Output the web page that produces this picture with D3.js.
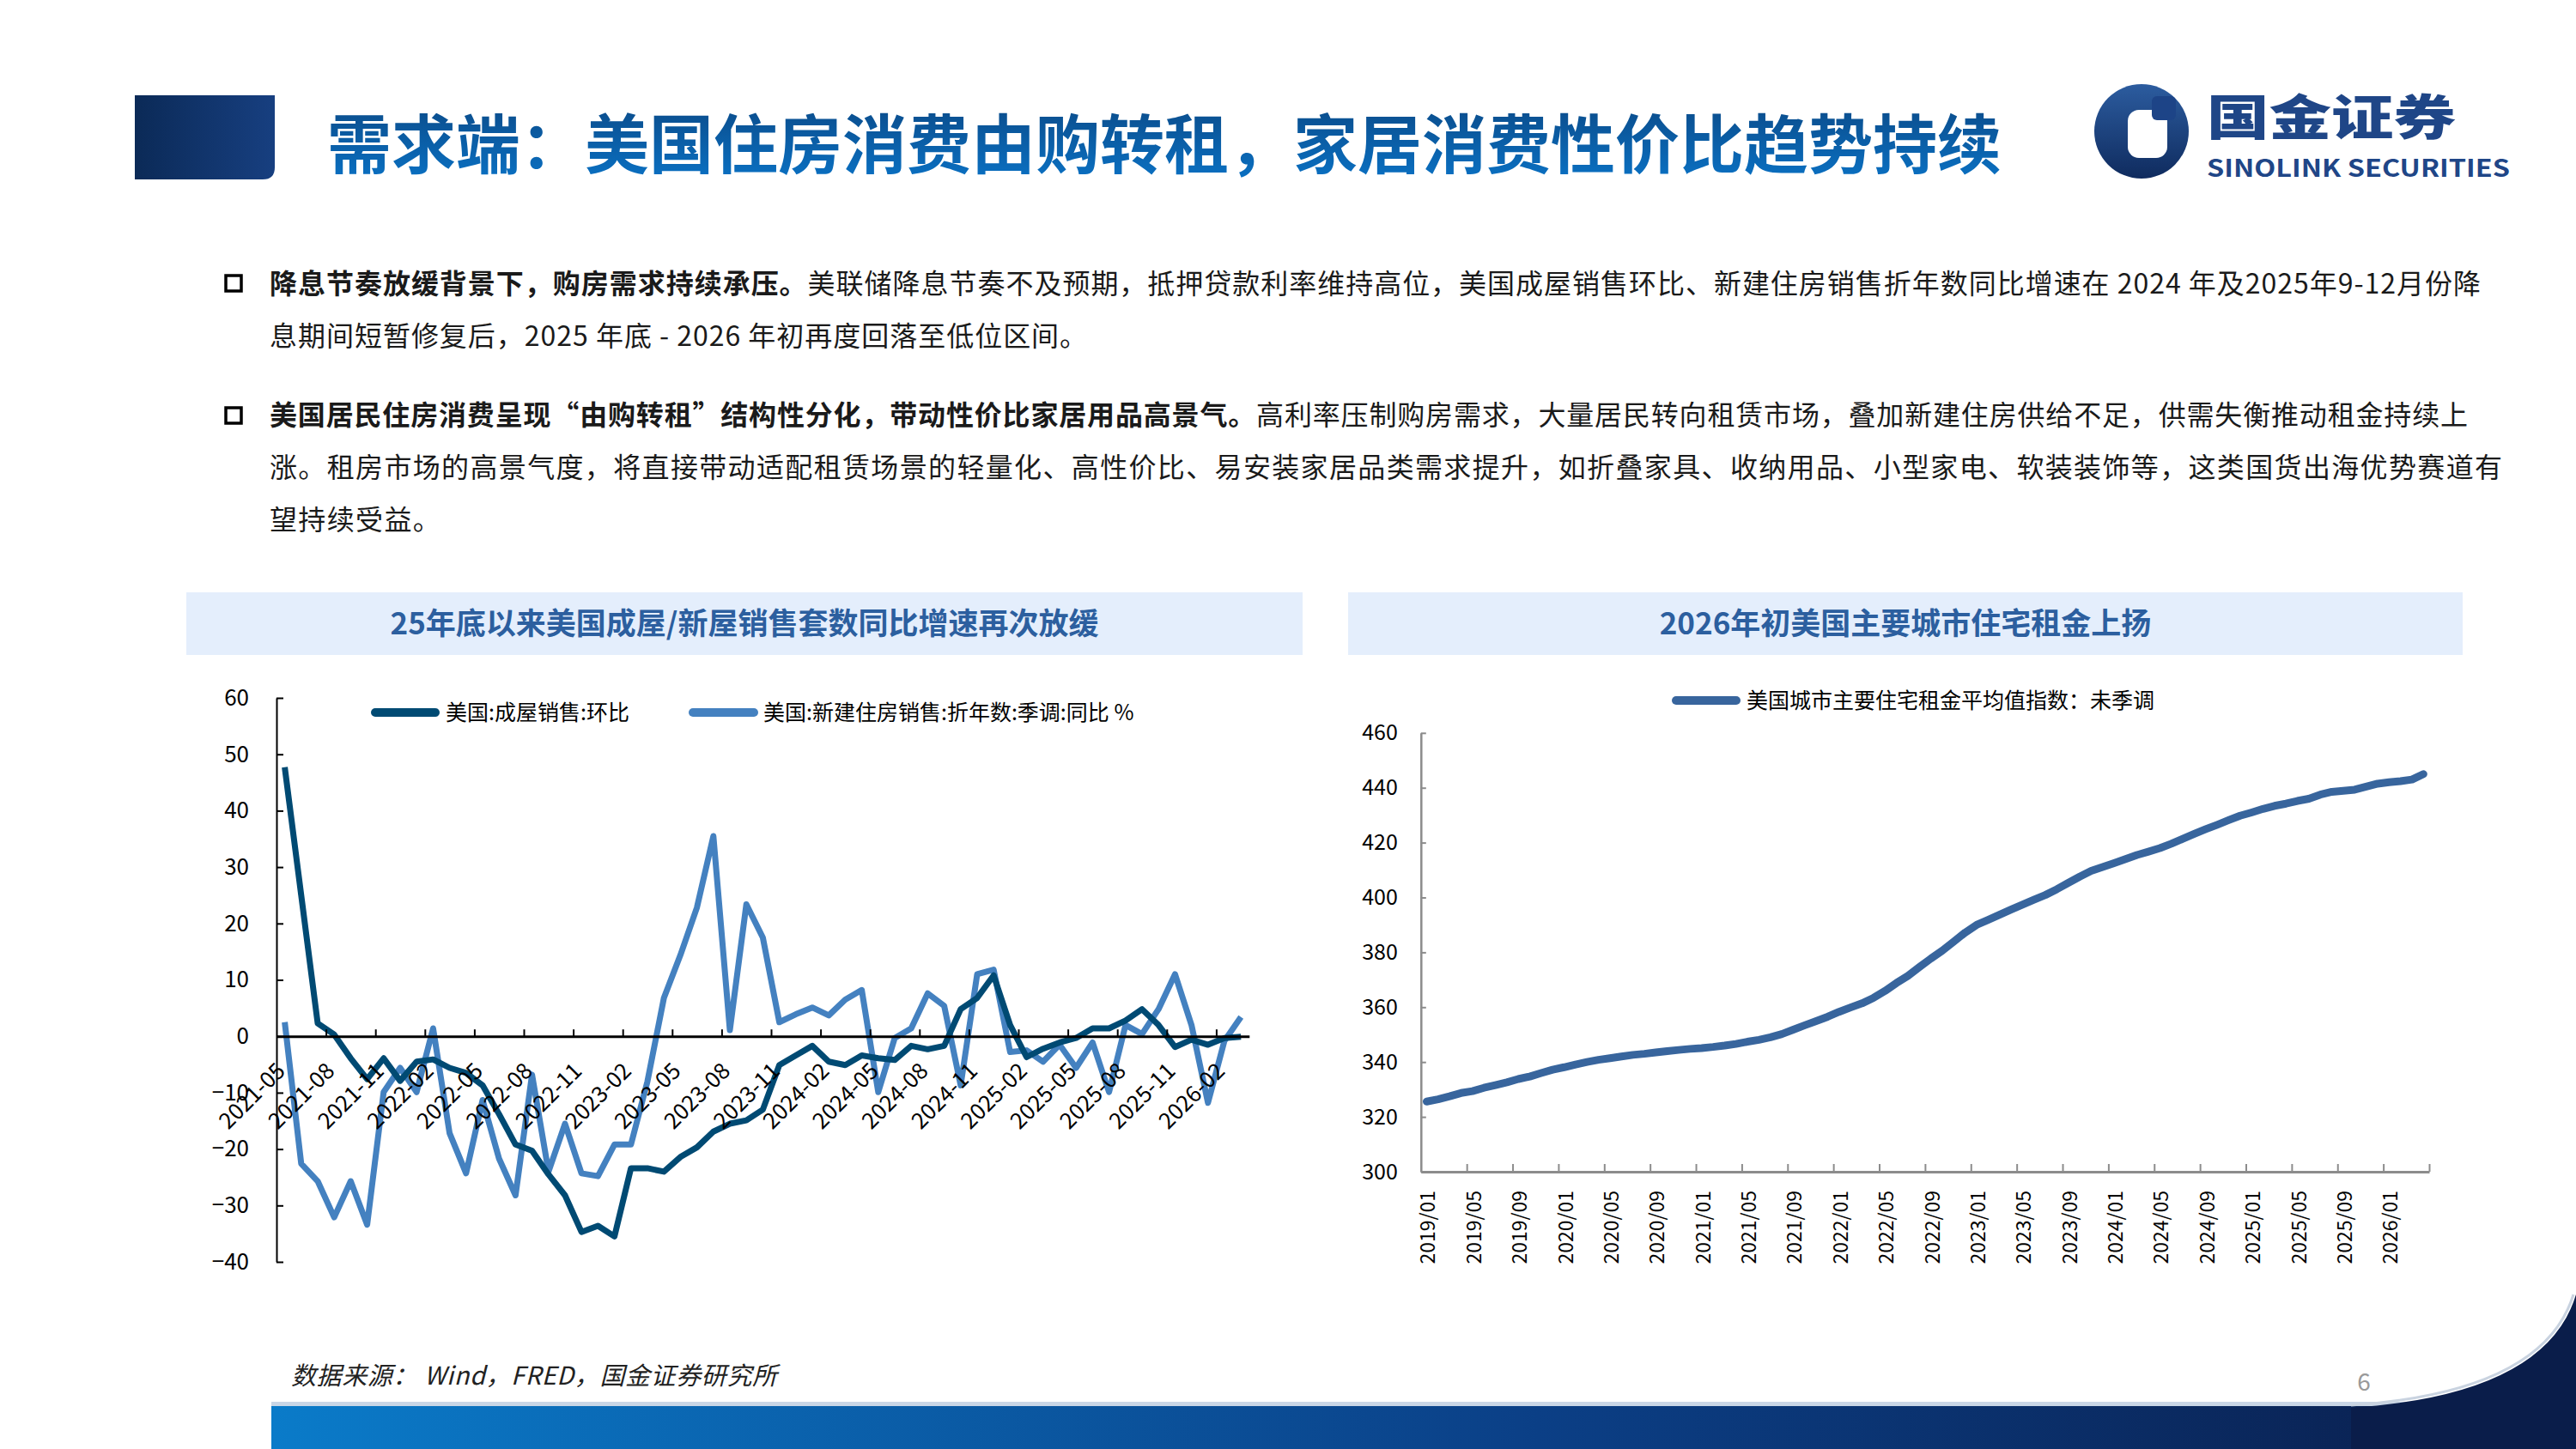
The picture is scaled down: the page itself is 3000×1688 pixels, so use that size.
<!DOCTYPE html>
<html>
<head>
<meta charset="utf-8">
<script src="https://cdn.jsdelivr.net/npm/d3@7"></script>
<style>
  body { margin: 0; background: #fff; }
  svg { display: block; }
  text { font-family: "Noto Sans CJK SC", "Noto Sans", sans-serif; }
</style>
</head>
<body>
<svg width="3000" height="1688"></svg>
<script>
// ---------- data ----------
// left chart: monthly, 2021-05 .. 2026-03
let salesMonths = d3.timeMonth.range(new Date(2021, 4, 1), new Date(2026, 3, 1)).map(d3.timeFormat('%Y-%m'));
let existingHomeMoM = [47.7, 25, 2.3, 0.3, -3.9, -7.6, -3.9, -7.9, -4.5, -4.1,
  -5.6, -6.5, -8.7, -13.8, -19.2, -20.3, -24.5, -28.2, -34.7, -33.6,
  -35.5, -23.4, -23.4, -24.0, -21.4, -19.7, -16.9, -15.5, -14.9, -13.0,
  -5.1, -3.4, -1.7, -4.5, -5.1, -3.4, -3.9, -4.2, -1.7, -2.3,
  -1.7, 4.8, 6.8, 10.8, 2.0, -3.7, -2.2, -1.1, -0.3, 1.4,
  1.4, 2.8, 4.8, 2.0, -1.9, -0.6, -1.5, -0.3, -0.1];
let newHomeYoY = [2.5, -22.6, -25.7, -32.1, -25.7, -33.4, -9.9, -5.6, -9.9, 1.4,
  -17.2, -24.3, -11.3, -21.7, -28.2, -6.8, -24.0, -15.5, -24.3, -24.8,
  -19.2, -19.2, -8.0, 6.8, 14.4, 22.8, 35.5, 1.1, 23.4, 17.5,
  2.5, 3.9, 5.1, 3.7, 6.5, 8.2, -9.9, -0.3, 1.4, 7.6,
  5.4, -8.7, 11.0, 11.8, -2.8, -2.5, -4.5, -1.5, -5.6, -1.1,
  -9.9, 2.0, 0.4, 4.8, 11.0, 2.0, -11.8, -0.8, 3.4];
let salesTicks = [-40, -30, -20, -10, 0, 10, 20, 30, 40, 50, 60];

// right chart: monthly, 2019/01 .. 2026/04
let rentMonths = d3.timeMonth.range(new Date(2019, 0, 1), new Date(2026, 4, 1)).map(d3.timeFormat('%Y/%m'));
let rentIndex = [325.6, 326.4, 327.5, 328.7, 329.4, 330.6, 331.6, 332.6, 333.8, 334.7,
  336.0, 337.2, 338.1, 339.1, 340.0, 340.8, 341.4, 342.0, 342.6, 343.0,
  343.5, 344.0, 344.4, 344.8, 345.1, 345.5, 346.0, 346.6, 347.4, 348.1,
  349.0, 350.2, 351.8, 353.4, 354.9, 356.5, 358.3, 359.9, 361.4, 363.4,
  365.9, 368.8, 371.4, 374.6, 377.7, 380.6, 383.9, 387.2, 390.0, 391.8,
  393.7, 395.6, 397.4, 399.2, 400.9, 403.0, 405.3, 407.6, 409.7, 411.1,
  412.5, 414.0, 415.5, 416.7, 418.0, 419.6, 421.4, 423.2, 424.9, 426.5,
  428.2, 429.8, 431.0, 432.3, 433.4, 434.2, 435.2, 436.0, 437.5, 438.5,
  438.9, 439.3, 440.4, 441.5, 442.0, 442.4, 443.0, 445.0];
let rentTicks = [300, 320, 340, 360, 380, 400, 420, 440, 460];

let svg = d3.select('svg');
let defs = svg.append('defs');

// ---------- page furniture ----------
let g1 = defs.append('linearGradient').attr('id', 'blockGrad').attr('x1', 0).attr('x2', 1).attr('y1', 0).attr('y2', 0);
g1.append('stop').attr('offset', 0).attr('stop-color', '#0b2a57');
g1.append('stop').attr('offset', 1).attr('stop-color', '#173f80');

let g2 = defs.append('linearGradient').attr('id', 'titleGrad').attr('x1', 0).attr('x2', 0).attr('y1', 0).attr('y2', 1);
g2.append('stop').attr('offset', 0).attr('stop-color', '#0b4783');
g2.append('stop').attr('offset', 1).attr('stop-color', '#0a74c8');

let g3 = defs.append('linearGradient').attr('id', 'bandGrad').attr('x1', 0).attr('x2', 1).attr('y1', 0).attr('y2', 0);
g3.append('stop').attr('offset', 0).attr('stop-color', '#0a7bc9');
g3.append('stop').attr('offset', 0.55).attr('stop-color', '#0b3f86');
g3.append('stop').attr('offset', 1).attr('stop-color', '#0a1d4a');

let g4 = defs.append('linearGradient').attr('id', 'logoGrad').attr('x1', 0).attr('x2', 0).attr('y1', 0).attr('y2', 1);
g4.append('stop').attr('offset', 0).attr('stop-color', '#2c5c9f');
g4.append('stop').attr('offset', 1).attr('stop-color', '#0f2b5e');

// left dark block
svg.append('path')
  .attr('d', 'M157,111 H320 V195 Q320,209 306,209 H157 Z')
  .attr('fill', 'url(#blockGrad)');

svg.append('text')
  .attr('x', 381).attr('y', 196)
  .attr('font-size', 75).attr('font-weight', 700)
  .attr('fill', 'url(#titleGrad)')
  .text('需求端：美国住房消费由购转租，家居消费性价比趋势持续');

// logo
let logo = svg.append('g');
logo.append('circle').attr('cx', 2494).attr('cy', 153).attr('r', 55).attr('fill', 'url(#logoGrad)');
logo.append('rect').attr('x', 2478).attr('y', 128).attr('width', 46).attr('height', 56).attr('rx', 13).attr('fill', '#fff');
logo.append('rect').attr('x', 2506).attr('y', 112).attr('width', 28).attr('height', 28).attr('rx', 6).attr('fill', '#1d4487');
logo.append('text').attr('x', 2570).attr('y', 157)
  .attr('font-size', 56).attr('font-weight', 900).attr('fill', '#1f4687')
  .attr('textLength', 290).attr('lengthAdjust', 'spacingAndGlyphs')
  .text('国金证券');
logo.append('text').attr('x', 2570).attr('y', 206)
  .attr('font-family', '"Liberation Sans", Arial, sans-serif')
  .attr('font-size', 28).attr('font-weight', 700).attr('fill', '#1f4687')
  .attr('textLength', 353).attr('lengthAdjust', 'spacingAndGlyphs')
  .text('SINOLINK SECURITIES');

// ---------- bullet text ----------
let bulletLines = [
  { y: 342, parts: [['降息节奏放缓背景下，购房需求持续承压。', 700], ['美联储降息节奏不及预期，抵押贷款利率维持高位，美国成屋销售环比、新建住房销售折年数同比增速在 2024 年及2025年9-12月份降', 400]], end: 2889 },
  { y: 403, parts: [['息期间短暂修复后，2025 年底 - 2026 年初再度回落至低位区间。', 400]], end: null },
  { y: 495, parts: [['美国居民住房消费呈现“由购转租”结构性分化，带动性价比家居用品高景气。', 700], ['高利率压制购房需求，大量居民转向租赁市场，叠加新建住房供给不足，供需失衡推动租金持续上', 400]], end: 2874 },
  { y: 556, parts: [['涨。租房市场的高景气度，将直接带动适配租赁场景的轻量化、高性价比、易安装家居品类需求提升，如折叠家具、收纳用品、小型家电、软装装饰等，这类国货出海优势赛道有', 400]], end: 2914 },
  { y: 617, parts: [['望持续受益。', 400]], end: null }
];
[330, 484].forEach(cy => {
  svg.append('rect').attr('x', 263).attr('y', cy - 9).attr('width', 18).attr('height', 18)
    .attr('fill', '#fff').attr('stroke', '#000').attr('stroke-width', 3.5);
});
let lastSpacing = 0;
bulletLines.forEach(line => {
  let t = svg.append('text').attr('x', 314).attr('y', line.y)
    .attr('font-size', 32).attr('fill', '#1a1a1a');
  line.parts.forEach(p => t.append('tspan').attr('font-weight', p[1]).text(p[0]));
  let n = line.parts.map(p => p[0]).join('').length;
  if (line.end) {
    let natural = t.node().getComputedTextLength();
    lastSpacing = (line.end - 314 - natural) / (n - 1);
  }
  t.attr('letter-spacing', lastSpacing);
});

// ---------- chart title boxes ----------
[[217, 1517, '25年底以来美国成屋/新屋销售套数同比增速再次放缓'], [1570, 2868, '2026年初美国主要城市住宅租金上扬']].forEach(b => {
  svg.append('rect').attr('x', b[0]).attr('y', 690).attr('width', b[1] - b[0]).attr('height', 73).attr('fill', '#e4eefc');
  svg.append('text').attr('x', (b[0] + b[1]) / 2).attr('y', 739)
    .attr('text-anchor', 'middle').attr('font-size', 35).attr('font-weight', 700)
    .attr('fill', '#2c5f9f').text(b[2]);
});

// ---------- left chart ----------
let darkColor = '#004a73';
let blueColor = '#4481c0';

let xL = d3.scaleBand().domain(salesMonths).range([322, 1454.8]);
let bwL = xL.bandwidth();
let xLBound = d3.scaleLinear().domain([0, salesMonths.length]).range([322, 1454.8]);
let yL = d3.scaleLinear().domain([-40, 60]).range([1470, 813]);

let left = svg.append('g');

left.append('g')
  .attr('transform', 'translate(322,0)')
  .call(d3.axisLeft(yL).tickValues(salesTicks).tickSize(-8).tickSizeOuter(0).tickPadding(32))
  .call(g => g.select('.domain').attr('stroke', '#000').attr('stroke-width', 2))
  .call(g => g.selectAll('.tick line').attr('stroke', '#000').attr('stroke-width', 2))
  .call(g => g.selectAll('text').attr('font-family', '"Liberation Sans", Arial, sans-serif').attr('font-size', 26).attr('fill', '#000'));

let salesLine = d3.line().x((d, i) => xL(salesMonths[i]) + bwL / 2).y(d => yL(d));

left.append('path').datum(newHomeYoY)
  .attr('d', salesLine).attr('fill', 'none')
  .attr('stroke', blueColor).attr('stroke-width', 7).attr('stroke-linejoin', 'round');
left.append('path').datum(existingHomeMoM)
  .attr('d', salesLine).attr('fill', 'none')
  .attr('stroke', darkColor).attr('stroke-width', 7).attr('stroke-linejoin', 'round');

// zero axis with boundary ticks
left.append('g')
  .attr('transform', `translate(0,${yL(0)})`)
  .call(d3.axisTop(xLBound).tickValues(d3.range(3, salesMonths.length, 3)).tickSize(8).tickSizeOuter(0).tickFormat(''))
  .call(g => g.select('.domain').attr('stroke', '#000').attr('stroke-width', 3))
  .call(g => g.selectAll('.tick line').attr('stroke', '#000').attr('stroke-width', 2));

left.append('g')
  .attr('transform', `translate(0,${yL(0)})`)
  .call(d3.axisBottom(xL).tickValues(salesMonths.filter((d, i) => i % 3 === 0)).tickSize(0))
  .call(g => g.select('.domain').remove())
  .call(g => g.selectAll('text')
    .attr('x', 0).attr('y', 0).attr('dy', null)
    .attr('text-anchor', 'end')
    .attr('transform', 'translate(2,42) rotate(-45)')
    .attr('font-family', '"Open Sans", "Liberation Sans", sans-serif')
    .attr('font-size', 26).attr('fill', '#000'));

// legend
let legL = left.append('g');
[[432, 512, 519, darkColor, '美国:成屋销售:环比'], [802, 883, 889, blueColor, '美国:新建住房销售:折年数:季调:同比 %']].forEach(l => {
  legL.append('line').attr('x1', l[0] + 5).attr('x2', l[1] - 5).attr('y1', 830).attr('y2', 830)
    .attr('stroke', l[3]).attr('stroke-width', 10).attr('stroke-linecap', 'round');
  legL.append('text').attr('x', l[2]).attr('y', 839).attr('font-size', 25).attr('fill', '#000').text(l[4]);
});

// ---------- right chart ----------
let rentColor = '#38659d';
let xR = d3.scaleBand().domain(rentMonths).range([1654.8, 2829]);
let bwR = xR.bandwidth();
let xRBound = d3.scaleLinear().domain([0, rentMonths.length]).range([1654.8, 2829]);
let yR = d3.scaleLinear().domain([300, 460]).range([1365, 853.8]);

let right = svg.append('g');

right.append('g')
  .attr('transform', 'translate(1654.8,0)')
  .call(d3.axisLeft(yR).tickValues(rentTicks).tickSize(-6).tickSizeOuter(0).tickPadding(27))
  .call(g => g.select('.domain').attr('stroke', '#8c8c8c').attr('stroke-width', 2.5))
  .call(g => g.selectAll('.tick line').attr('stroke', '#8c8c8c').attr('stroke-width', 2))
  .call(g => g.selectAll('text').attr('font-family', '"Liberation Sans", Arial, sans-serif').attr('font-size', 25).attr('fill', '#000'));

right.append('g')
  .attr('transform', 'translate(0,1365)')
  .call(d3.axisTop(xRBound).tickValues(d3.range(4, rentMonths.length + 1, 4)).tickSize(9).tickSizeOuter(0).tickFormat(''))
  .call(g => g.select('.domain').attr('stroke', '#8c8c8c').attr('stroke-width', 3))
  .call(g => g.selectAll('.tick line').attr('stroke', '#8c8c8c').attr('stroke-width', 2));

right.append('g')
  .attr('transform', 'translate(0,1365)')
  .call(d3.axisBottom(xR).tickValues(rentMonths.filter((d, i) => i % 4 === 0)).tickSize(0))
  .call(g => g.select('.domain').remove())
  .call(g => g.selectAll('text')
    .attr('x', 0).attr('y', 0).attr('dy', null)
    .attr('text-anchor', 'end')
    .attr('dominant-baseline', 'central')
    .attr('transform', 'translate(0,22) rotate(-90)')
    .attr('font-family', '"DejaVu Sans", sans-serif')
    .attr('font-size', 23).attr('fill', '#000'));

let rentLine = d3.line().x((d, i) => xR(rentMonths[i]) + bwR / 2).y(d => yR(d));
right.append('path').datum(rentIndex)
  .attr('d', rentLine).attr('fill', 'none')
  .attr('stroke', rentColor).attr('stroke-width', 9)
  .attr('stroke-linejoin', 'round').attr('stroke-linecap', 'round');

right.append('line').attr('x1', 1952).attr('x2', 2022).attr('y1', 816).attr('y2', 816)
  .attr('stroke', rentColor).attr('stroke-width', 10).attr('stroke-linecap', 'round');
right.append('text').attr('x', 2034).attr('y', 825).attr('font-size', 25).attr('fill', '#000')
  .text('美国城市主要住宅租金平均值指数：未季调');

// ---------- footer ----------
svg.append('text').attr('x', 339).attr('y', 1613)
  .attr('font-size', 29).attr('font-style', 'italic').attr('fill', '#222')
  .attr('textLength', 566).attr('lengthAdjust', 'spacing')
  .text('数据来源：  Wind，FRED，国金证券研究所');
svg.append('text').attr('x', 2753).attr('y', 1620).attr('text-anchor', 'middle')
  .attr('font-size', 28).attr('fill', '#9a9a9a').text('6');

svg.append('rect').attr('x', 316).attr('y', 1633).attr('width', 2684).attr('height', 5).attr('fill', '#c9d6e6');
svg.append('rect').attr('x', 316).attr('y', 1638).attr('width', 2684).attr('height', 50).attr('fill', 'url(#bandGrad)');
svg.append('path')
  .attr('d', 'M2738,1640 Q2965,1625 3000,1508 L3000,1688 L2738,1688 Z')
  .attr('fill', '#0a1d4a');
svg.append('path')
  .attr('d', 'M2738,1637 Q2962,1622 2997,1508')
  .attr('fill', 'none').attr('stroke', '#c9d3e0').attr('stroke-width', 3);
</script>
</body>
</html>
